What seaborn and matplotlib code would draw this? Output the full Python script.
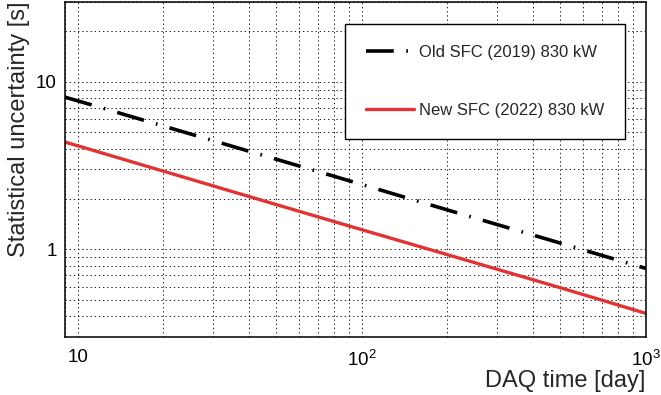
import numpy as np
import seaborn as sns
import matplotlib.pyplot as plt
from matplotlib.ticker import LogLocator, FuncFormatter, NullFormatter

# values (log-log straight lines)
daq_days = [9, 10, 20, 50, 100, 200, 500, 1000]
old_sfc = [8.1, 7.7, 5.45, 3.45, 2.44, 1.72, 1.09, 0.77]
new_sfc = [4.37, 4.15, 2.93, 1.85, 1.31, 0.93, 0.59, 0.415]
labels = ['Old SFC (2019) 830 kW', 'New SFC (2022) 830 kW']

sns.set_style('white')
plt.rcParams['font.family'] = ['Liberation Sans', 'DejaVu Sans']
plt.rcParams['mathtext.default'] = 'regular'
plt.rcParams['lines.scale_dashes'] = False

fig = plt.figure(figsize=(6.61, 3.95), dpi=100)
ax = fig.add_axes([0.0983, 0.147, 0.8787, 0.848])

sns.lineplot(x=daq_days, y=old_sfc, ax=ax, color='black', lw=2.6,
             linestyle=(0, (20, 9, 1.2, 9)), label=labels[0])
sns.lineplot(x=daq_days, y=new_sfc, ax=ax, color='#e03434', lw=2.4,
             label=labels[1])

ax.set_xscale('log')
ax.set_yscale('log')
ax.set_xlim(9, 1000)
ax.set_ylim(0.3, 30)

ax.xaxis.set_major_locator(LogLocator(base=10, numticks=10))
ax.xaxis.set_minor_locator(LogLocator(base=10, subs=np.arange(2, 10), numticks=20))
ax.yaxis.set_major_locator(LogLocator(base=10, numticks=10))
ax.yaxis.set_minor_locator(LogLocator(base=10, subs=np.arange(2, 10), numticks=20))


def xfmt(v, pos):
    if abs(v - 10) < 1e-6:
        return '10'
    return '$10^{%d}$' % round(np.log10(v))


def yfmt(v, pos):
    return '%g' % v


ax.xaxis.set_major_formatter(FuncFormatter(xfmt))
ax.yaxis.set_major_formatter(FuncFormatter(yfmt))
ax.xaxis.set_minor_formatter(NullFormatter())
ax.yaxis.set_minor_formatter(NullFormatter())

ax.grid(True, which='both', color='black', lw=0.6, linestyle=(0, (1, 2)))
ax.tick_params(which='both', direction='in', top=False, right=False,
               colors='black', labelsize=13.5)
ax.tick_params(which='major', length=8, width=1)
ax.tick_params(which='minor', length=4.5, width=0.8)
ax.tick_params(axis='x', pad=9)
ax.tick_params(axis='y', pad=6)

for s in ax.spines.values():
    s.set_color('black')
    s.set_linewidth(1.1)

ax.set_xlabel('DAQ time [day]', fontsize=17, loc='right', labelpad=0)
ax.set_ylabel('Statistical uncertainty [s]', fontsize=17, loc='top', labelpad=4)

leg = ax.legend(loc='upper left', bbox_to_anchor=(345 / 661, 1 - 24 / 395),
                bbox_transform=fig.transFigure, fontsize=12, frameon=True,
                fancybox=False, framealpha=1, edgecolor='black',
                borderpad=1.25, labelspacing=2.6, handlelength=2.9,
                handletextpad=0.3, borderaxespad=0)
leg.get_frame().set_linewidth(1.0)

fig.savefig('out.png', dpi=100)
